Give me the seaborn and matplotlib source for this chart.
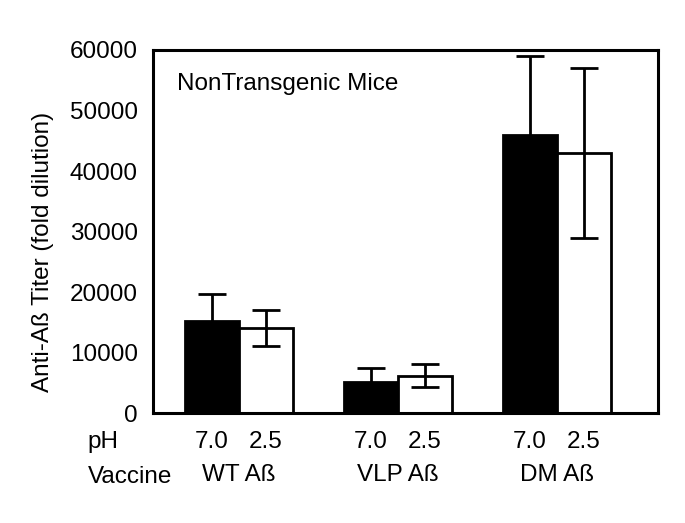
import pandas as pd
import seaborn as sns
import matplotlib.pyplot as plt
from matplotlib import transforms

vaccines = ['WT Aß', 'VLP Aß', 'DM Aß']
ph_levels = ['7.0', '2.5']
titer_ph70 = [15200, 5200, 46000]
titer_ph25 = [14000, 6200, 43000]
err_ph70 = [4500, 2200, 13000]
err_ph25 = [3000, 1950, 14000]

data = pd.DataFrame({
    'Vaccine': vaccines * 2,
    'pH': [ph_levels[0]] * 3 + [ph_levels[1]] * 3,
    'Titer': titer_ph70 + titer_ph25,
    'Err': err_ph70 + err_ph25,
})

sns.set_style('white')
plt.rcParams['font.family'] = ['Liberation Sans', 'DejaVu Sans']
plt.rcParams['text.color'] = 'black'
plt.rcParams['xtick.color'] = 'black'
plt.rcParams['ytick.color'] = 'black'
fs = 17.5

fig = plt.figure(figsize=(6.85, 5.23), dpi=100)
ax = fig.add_axes([0.2234, 0.2103, 0.7372, 0.6941])

sns.barplot(data=data, x='Vaccine', y='Titer', hue='pH', hue_order=ph_levels,
            palette=['black', 'white'], edgecolor='black', linewidth=2,
            width=0.68, errorbar=None, legend=False, ax=ax)

# error bars on top of each bar (values come from the table)
trans = transforms.blended_transform_factory(ax.transData, ax.transAxes)
for container, level in zip(ax.containers, ph_levels):
    sub = data[data.pH == level]
    xs = [p.get_x() + p.get_width() / 2 for p in container.patches]
    ax.errorbar(xs, sub.Titer, yerr=sub.Err, fmt='none', ecolor='black',
                elinewidth=2, capsize=10, capthick=2, zorder=5)
    for x in xs:
        ax.text(x, -0.08, level, transform=trans, ha='center', va='center', fontsize=fs)

ax.set_ylim(0, 60000)
ax.set_xlim(-0.541, 2.635)
ax.set_yticks(range(0, 60001, 10000))
ax.tick_params(axis='y', direction='in', length=6, width=2, pad=11, labelsize=fs)
ax.tick_params(axis='x', length=0, pad=37, labelsize=fs)
ax.set_xlabel('')
ax.set_ylabel('')
for s in ax.spines.values():
    s.set_visible(True)
    s.set_linewidth(2.2)
    s.set_color('black')

ax.text(-0.129, -0.08, 'pH', transform=ax.transAxes, ha='left', va='center', fontsize=fs)
ax.text(-0.129, -0.176, 'Vaccine', transform=ax.transAxes, ha='left', va='center', fontsize=fs)
ax.text(0.047, 0.905, 'NonTransgenic Mice', transform=ax.transAxes, ha='left', va='center', fontsize=fs)
fig.text(0.063, 0.518, 'Anti-Aß Titer (fold dilution)', rotation=90, ha='center', va='center', fontsize=fs)

fig.savefig('out.png', dpi=100)
